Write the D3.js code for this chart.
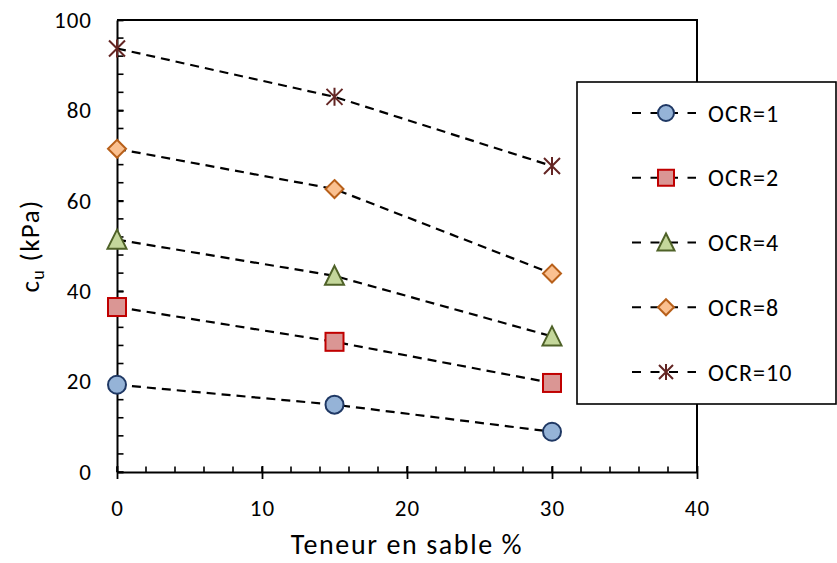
<!DOCTYPE html>
<html>
<head>
<meta charset="utf-8">
<script src="https://cdn.jsdelivr.net/npm/d3@7/dist/d3.min.js"></script>
<style>
  html, body { margin: 0; padding: 0; background: #fff; }
  svg { display: block; font-family: Calibri, Carlito, Lato, "Open Sans", sans-serif; }
</style>
</head>
<body>
<svg id="chart" width="837" height="563"></svg>
<script>
// Sand content (%) on the x axis
const sandContent = [0, 15, 30];

// Undrained shear strength cu (kPa) for each overconsolidation ratio
const seriesNames = ["OCR=1", "OCR=2", "OCR=4", "OCR=8", "OCR=10"];
const cuOCR1  = [19.3, 14.9, 8.9];
const cuOCR2  = [36.5, 28.8, 19.7];
const cuOCR4  = [51.4, 43.4, 30.0];
const cuOCR8  = [71.5, 62.6, 43.9];
const cuOCR10 = [93.7, 83.0, 67.7];

const xTicks = [0, 10, 20, 30, 40];
const yTicks = [0, 20, 40, 60, 80, 100];

const seriesStyles = [
  { shape: "circle",   fill: "#95B3D7", stroke: "#1F3864" },
  { shape: "square",   fill: "#DA9694", stroke: "#C00000" },
  { shape: "triangle", fill: "#C4D79B", stroke: "#4F6228" },
  { shape: "diamond",  fill: "#FAC090", stroke: "#B8601A" },
  { shape: "star",     fill: "none",    stroke: "#632523" }
];

const series = [cuOCR1, cuOCR2, cuOCR4, cuOCR8, cuOCR10].map((vals, i) => ({
  name: seriesNames[i],
  style: seriesStyles[i],
  points: vals.map((v, j) => ({ x: sandContent[j], y: v }))
}));

const svg = d3.select("#chart");
const plotLeft = 117, plotRight = 697, plotTop = 20, plotBottom = 472;

const x = d3.scaleLinear().domain([0, 40]).range([plotLeft, plotRight]);
const y = d3.scaleLinear().domain([0, 100]).range([plotBottom, plotTop]);

// Plot frame (top and right edges)
svg.append("path")
  .attr("d", `M${plotLeft},${plotTop}H${plotRight}V${plotBottom}`)
  .attr("fill", "none").attr("stroke", "#000").attr("stroke-width", 2);

// Minor ticks, drawn inward
const xMinor = d3.range(0, 40.001, 2);
const yMinor = d3.range(0, 100.001, 4);
svg.append("g").selectAll("line").data(xMinor).join("line")
  .attr("x1", d => x(d)).attr("x2", d => x(d))
  .attr("y1", plotBottom).attr("y2", plotBottom - 5.5)
  .attr("stroke", "#000").attr("stroke-width", 1.6);
svg.append("g").selectAll("line").data(yMinor).join("line")
  .attr("y1", d => y(d)).attr("y2", d => y(d))
  .attr("x1", plotLeft).attr("x2", plotLeft + 6.5)
  .attr("stroke", "#000").attr("stroke-width", 1.6);

// X axis with major ticks crossing the axis line
const xAxis = svg.append("g").attr("transform", `translate(0,${plotBottom})`)
  .call(d3.axisBottom(x).tickValues(xTicks).tickSize(7).tickPadding(20).tickSizeOuter(0));
xAxis.select(".domain").attr("stroke-width", 2);
xAxis.selectAll(".tick line").attr("y1", -6).attr("stroke-width", 1.8);
xAxis.selectAll(".tick text").attr("font-size", 23).attr("fill", "#000")
  .attr("font-family", "Calibri, Carlito, Lato, sans-serif")
  .attr("letter-spacing", 1)
  .attr("dy", "0.35em").attr("y", 36);

// Y axis with major ticks crossing the axis line
const yAxis = svg.append("g").attr("transform", `translate(${plotLeft},0)`)
  .call(d3.axisLeft(y).tickValues(yTicks).tickSize(6).tickPadding(18).tickSizeOuter(0));
yAxis.select(".domain").attr("stroke-width", 2);
yAxis.selectAll(".tick line").attr("x2", 6.5).attr("stroke-width", 1.8);
yAxis.selectAll(".tick text").attr("font-size", 23).attr("fill", "#000")
  .attr("font-family", "Calibri, Carlito, Lato, sans-serif")
  .attr("letter-spacing", 1)
  .attr("x", -25);

// Axis titles
svg.append("text")
  .attr("x", (plotLeft + plotRight) / 2).attr("y", 554)
  .attr("text-anchor", "middle").attr("font-size", 28)
  .attr("letter-spacing", 1.6)
  .text("Teneur en sable %");

const yTitle = svg.append("text")
  .attr("transform", `translate(39,${(plotTop + plotBottom) / 2}) rotate(-90)`)
  .attr("text-anchor", "middle").attr("font-size", 27)
  .attr("letter-spacing", 1.4);
yTitle.append("tspan").text("c");
yTitle.append("tspan").attr("font-size", 18).attr("dy", 5).text("u");
yTitle.append("tspan").attr("dy", -5).text(" (kPa)");

// Marker drawing
function drawMarker(g, style, size) {
  const s = size;
  if (style.shape === "circle") {
    g.append("circle").attr("r", s / 2);
  } else if (style.shape === "square") {
    g.append("rect").attr("x", -s / 2).attr("y", -s / 2).attr("width", s).attr("height", s);
  } else if (style.shape === "triangle") {
    g.append("path").attr("d", `M0,${-s / 2 - 1}L${s / 2 + 0.5},${s / 2}L${-s / 2 - 0.5},${s / 2}Z`);
  } else if (style.shape === "diamond") {
    g.append("path").attr("d", `M0,${-s / 2}L${s / 2},0L0,${s / 2}L${-s / 2},0Z`);
  } else {
    const r = s / 2 - 1;
    g.append("path").attr("d",
      `M${-r},${-r}L${r},${r}M${-r},${r}L${r},${-r}M0,${-r - 1}L0,${r + 1}`);
  }
  g.selectAll("*")
    .attr("fill", style.fill)
    .attr("stroke", style.stroke)
    .attr("stroke-width", 2);
}

const line = d3.line().x(d => x(d.x)).y(d => y(d.y));

// Dashed trend lines
svg.append("g").selectAll("path").data(series).join("path")
  .attr("d", d => line(d.points))
  .attr("fill", "none").attr("stroke", "#000")
  .attr("stroke-width", 2.2).attr("stroke-dasharray", "9,6");

// Point markers
series.forEach(s => {
  s.points.forEach(p => {
    const g = svg.append("g").attr("transform", `translate(${x(p.x)},${y(p.y)})`);
    drawMarker(g, s.style, 18);
  });
});

// Legend
const legend = svg.append("g");
legend.append("rect")
  .attr("x", 577).attr("y", 82).attr("width", 259).attr("height", 322)
  .attr("fill", "#fff").attr("stroke", "#000").attr("stroke-width", 1.6);

const legendY = d3.scalePoint().domain(seriesNames).range([113, 372]);
series.forEach(s => {
  const cy = legendY(s.name);
  legend.append("line")
    .attr("x1", 632).attr("x2", 696).attr("y1", cy).attr("y2", cy)
    .attr("stroke", "#000").attr("stroke-width", 2.2).attr("stroke-dasharray", "9,9.5");
  const g = legend.append("g").attr("transform", `translate(666,${cy})`);
  drawMarker(g, s.style, 16);
  legend.append("text")
    .attr("x", 708).attr("y", cy).attr("dy", "0.36em")
    .attr("font-size", 24).attr("letter-spacing", 1.1).text(s.name);
});
</script>
</body>
</html>
